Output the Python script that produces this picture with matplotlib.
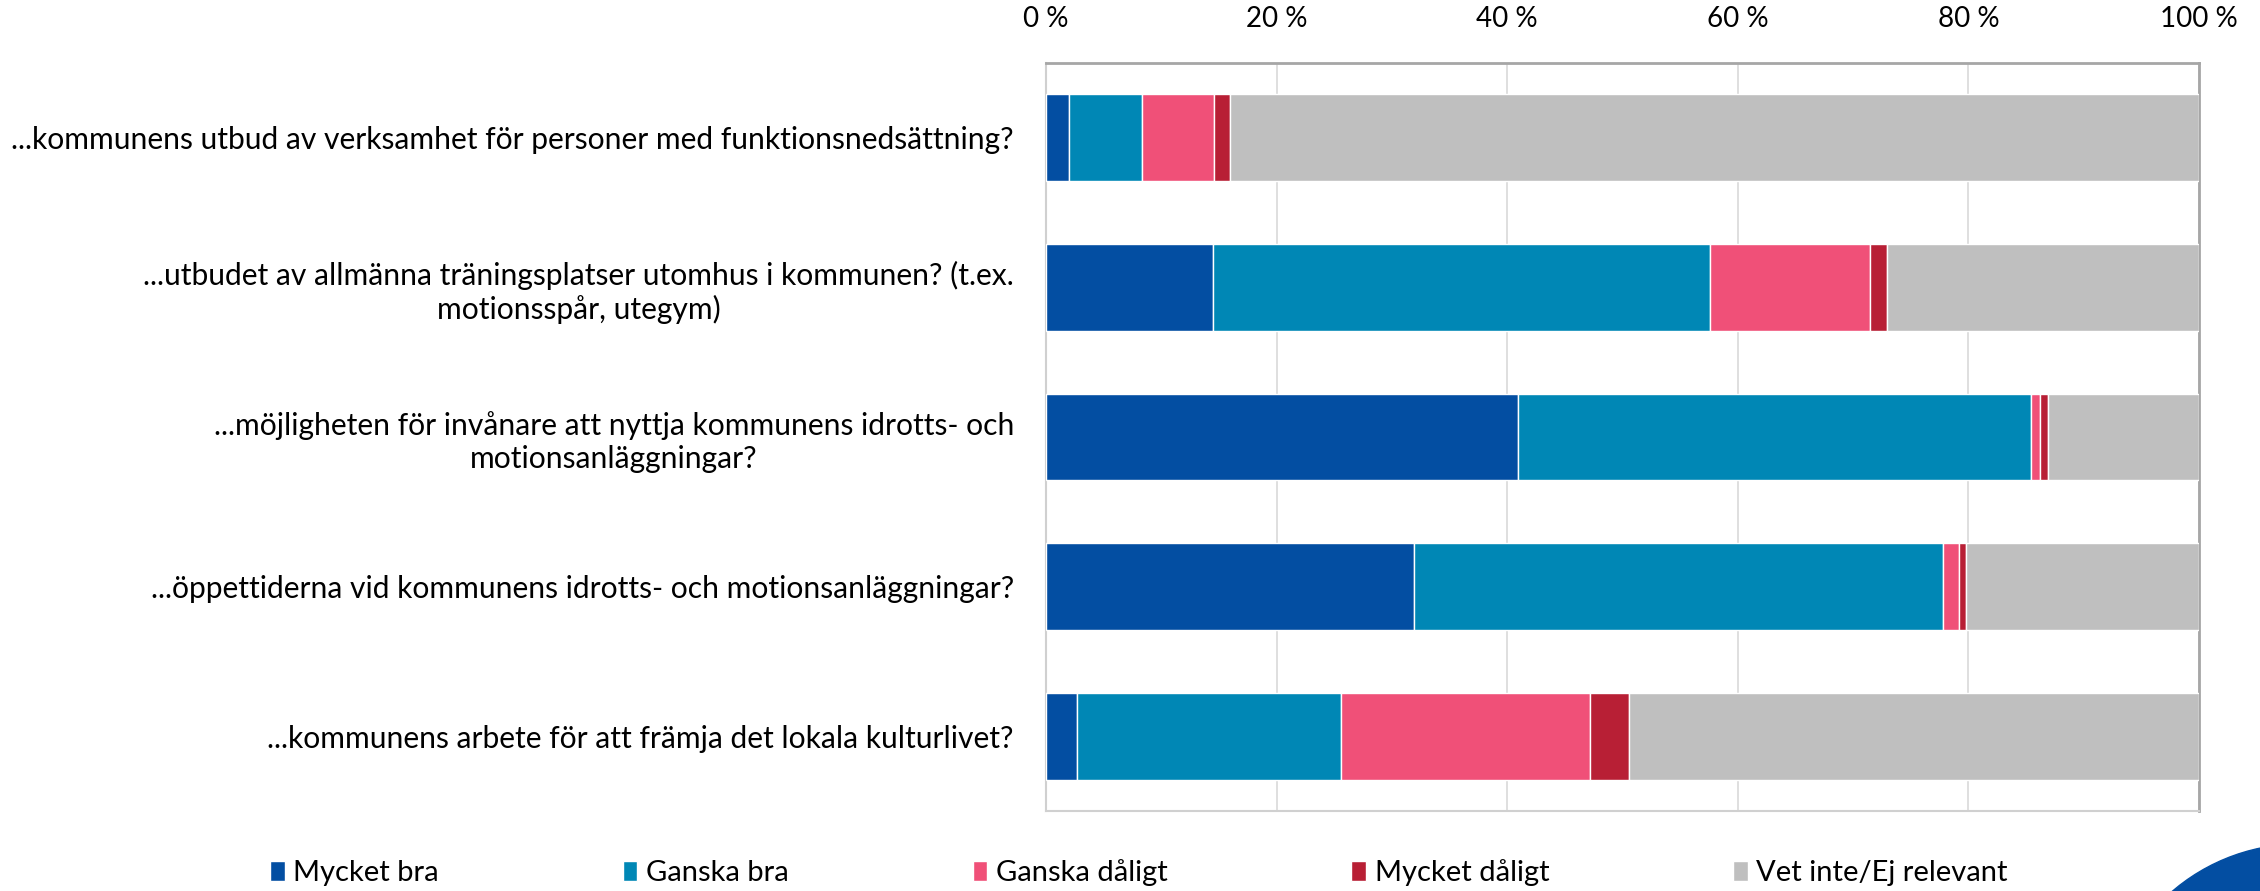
import matplotlib.pyplot as plt
import matplotlib.patches as mpatches
import numpy as np

plt.rcParams['font.family'] = ['Lato', 'DejaVu Sans']

questions = [
    '...kommunens utbud av verksamhet för personer med funktionsnedsättning?',
    '...utbudet av allmänna träningsplatser utomhus i kommunen? (t.ex.\nmotionsspår, utegym)',
    '...möjligheten för invånare att nyttja kommunens idrotts- och\nmotionsanläggningar?',
    '...öppettiderna vid kommunens idrotts- och motionsanläggningar?',
    '...kommunens arbete för att främja det lokala kulturlivet?',
]
answers = ['Mycket bra', 'Ganska bra', 'Ganska dåligt', 'Mycket dåligt', 'Vet inte/Ej relevant']
colors = ['#034ea2', '#0087b5', '#f05078', '#b81f35', '#bfbfbf']

mycket_bra = [2.0, 14.5, 40.9, 31.9, 2.7]
ganska_bra = [6.3, 43.1, 44.5, 45.9, 22.9]
ganska_daligt = [6.3, 13.9, 0.8, 1.4, 21.6]
mycket_daligt = [1.4, 1.4, 0.7, 0.6, 3.4]
vet_inte = [84.0, 27.1, 13.1, 20.2, 49.4]
series = [mycket_bra, ganska_bra, ganska_daligt, mycket_daligt, vet_inte]

ticks = [0, 20, 40, 60, 80, 100]
tick_labels = ['0 %', '20 %', '40 %', '60 %', '80 %', '100 %']

fig = plt.figure(figsize=(22.6, 8.91), dpi=100)
ax = fig.add_axes([0.4628, 0.0898, 0.9730 - 0.4628, 0.9293 - 0.0898])

y = np.arange(len(questions))
left = np.zeros(len(questions))
for vals, name, col in zip(series, answers, colors):
    ax.barh(y, vals, left=left, height=0.58, color=col, edgecolor='white',
            linewidth=1, label=name, zorder=3)
    left += np.array(vals)

ax.set_xlim(0, 100)
ax.set_ylim(len(questions) - 0.5, -0.5)
ax.set_yticks(y)
ax.set_yticklabels(questions, fontsize=21.6, multialignment='center')
ax.set_xticks(ticks)
ax.set_xticklabels(tick_labels, fontsize=20)
ax.xaxis.tick_top()
ax.tick_params(axis='x', length=0, pad=22)
ax.tick_params(axis='y', length=0, pad=23)
ax.grid(axis='x', color='#d9d9d9', linewidth=1.2, zorder=0)

for side in ['left', 'bottom']:
    ax.spines[side].set_color('#d0d0d0')
    ax.spines[side].set_linewidth(1.5)
for side in ['top', 'right']:
    ax.spines[side].set_color('#a6a6a6')
    ax.spines[side].set_linewidth(2)

fig.legend(loc='center', bbox_to_anchor=(0.504, 1 - 873 / 891), ncol=5, frameon=False,
           fontsize=21, handlelength=0.5, handleheight=0.7, handletextpad=0.3,
           columnspacing=6.3)

# decorative corner circle
fig.patches.append(mpatches.Ellipse((2300 / 2260, 1 - 1040 / 891), 2 * 196 / 2260, 2 * 196 / 891,
                                    transform=fig.transFigure, color='#034ea2'))

fig.savefig('out.png', dpi=100)
